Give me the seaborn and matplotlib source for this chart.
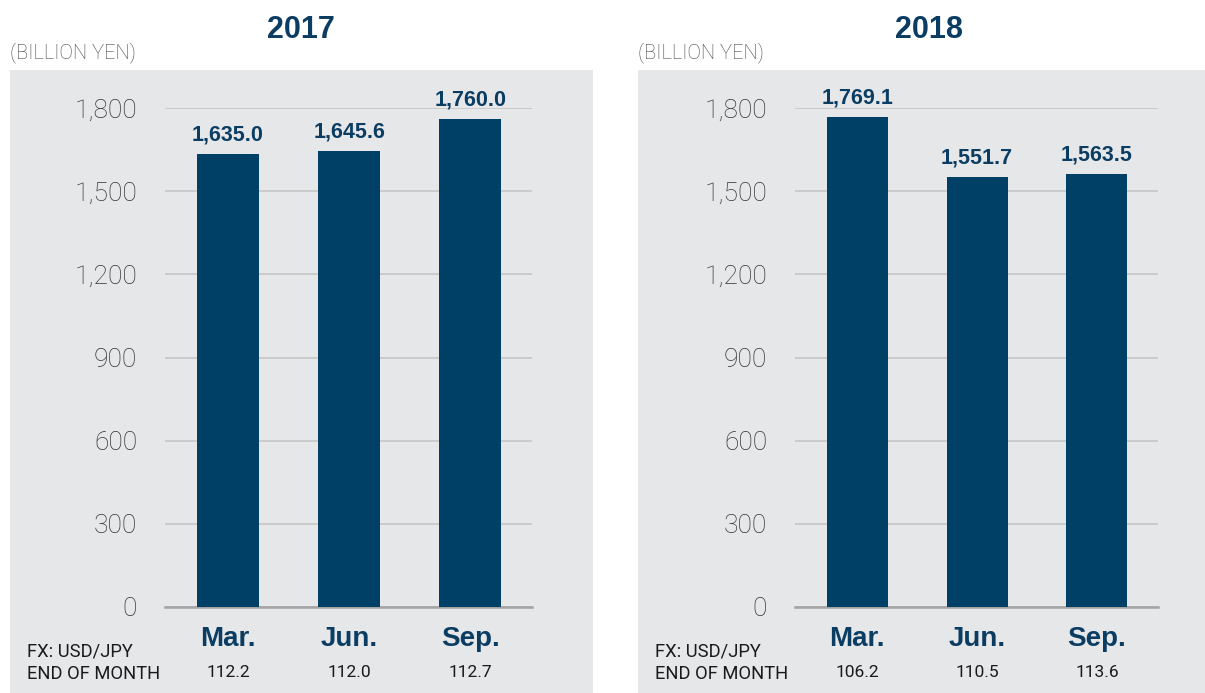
import matplotlib
matplotlib.use("Agg")
import matplotlib.pyplot as plt
from matplotlib.patches import Rectangle
import seaborn as sns
import pandas as pd

sns.set_style("white")
plt.rcParams["font.family"] = ["Liberation Sans", "DejaVu Sans"]

# ------------------ Dados ------------------ #
meses = ["Mar.", "Jun.", "Sep."]
valores_2017 = [1635.0, 1645.6, 1760.0]
valores_2018 = [1769.1, 1551.7, 1563.5]
fx_2017 = ["112.2", "112.0", "112.7"]
fx_2018 = ["106.2", "110.5", "113.6"]
anos = ["2017", "2018"]
yticks = [0, 300, 600, 900, 1200, 1500, 1800]

AZUL = "#003f66"
AZUL_TXT = "#0b3d63"
FUNDO = "#e6e7e9"
FONTE_LEVE = ["Roboto", "Liberation Sans", "DejaVu Sans"]
W, H = 1205, 693


def fx(x):
    return x / W


def fy(y):
    return 1 - y / H


fig = plt.figure(figsize=(W / 100, H / 100), dpi=100)
fig.patch.set_facecolor("white")

# painéis cinzas
fig.patches.append(Rectangle((fx(10), 0), fx(593) - fx(10), fy(70), transform=fig.transFigure,
                             facecolor=FUNDO, edgecolor="none", zorder=-5))
fig.patches.append(Rectangle((fx(638), 0), fx(1205) - fx(638), fy(70), transform=fig.transFigure,
                             facecolor=FUNDO, edgecolor="none", zorder=-5))

paineis = [
    dict(ano=anos[0], valores=valores_2017, fx_vals=fx_2017, ax_left=165, ax_right=532, x0=10),
    dict(ano=anos[1], valores=valores_2018, fx_vals=fx_2018, ax_left=795, ax_right=1158, x0=638),
]

for p in paineis:
    ax = fig.add_axes([fx(p["ax_left"]), fy(607), fx(p["ax_right"]) - fx(p["ax_left"]), (607 - 108) / H])
    ax.set_zorder(2)
    ax.set_facecolor("none")
    df = pd.DataFrame({"mes": meses, "valor": p["valores"]})
    sns.barplot(data=df, x="mes", y="valor", color=AZUL, width=0.51, saturation=1, ax=ax,
                zorder=3, linewidth=0)
    ax.set_xlim(-0.52, 2.51)
    ax.set_ylim(0, 1800)
    ax.set_yticks(yticks)
    ax.set_yticklabels([f"{v:,}" for v in yticks], fontsize=19, color="#333333",
                       family=FONTE_LEVE, fontweight="light")
    ax.tick_params(axis="y", length=0, pad=20)
    ax.tick_params(axis="x", length=0, pad=14)
    for lbl in ax.get_xticklabels():
        lbl.set_fontsize(20)
        lbl.set_fontweight("bold")
        lbl.set_color(AZUL_TXT)
    ax.set_xlabel("")
    ax.set_ylabel("")
    ax.grid(axis="y", color="#c6c6c6", linewidth=1.2, zorder=0)
    ax.set_axisbelow(True)
    for s in ["top", "left", "right"]:
        ax.spines[s].set_visible(False)
    ax.spines["bottom"].set_color("#a3a3a3")
    ax.spines["bottom"].set_linewidth(1.8)

    ax.bar_label(ax.containers[0], labels=[f"{v:,.1f}" for v in p["valores"]], padding=6,
                 fontsize=15.5, fontweight="bold", color=AZUL_TXT)

    for i, v in enumerate(p["fx_vals"]):
        ax.text(i, -0.132, v, transform=ax.get_xaxis_transform(), ha="center", va="center",
                fontsize=12.5, color="#1a1a1a", family=FONTE_LEVE)

    x0 = p["x0"]
    centro = (p["ax_left"] + p["ax_right"]) / 2 - 48
    fig.text(fx(centro), fy(30), p["ano"], ha="center", va="center", fontsize=22,
             fontweight="bold", color=AZUL_TXT)
    fig.text(fx(x0), fy(53), "(BILLION YEN)", ha="left", va="center", fontsize=14.5,
             color="#444444", family=FONTE_LEVE, fontweight="light")
    fig.text(fx(x0 + 17), fy(652), "FX: USD/JPY", ha="left", va="center", fontsize=13.2,
             color="#1a1a1a", family=FONTE_LEVE)
    fig.text(fx(x0 + 17), fy(674), "END OF MONTH", ha="left", va="center", fontsize=13.2,
             color="#1a1a1a", family=FONTE_LEVE)

fig.savefig("out.png", dpi=100)
